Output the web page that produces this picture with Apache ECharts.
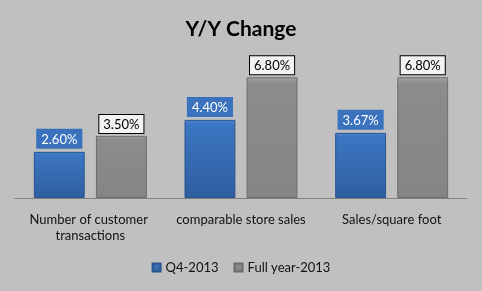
<!DOCTYPE html>
<html><head><meta charset="utf-8">
<script src="https://cdn.jsdelivr.net/npm/echarts@6/dist/echarts.min.js"></script>
<style>html,body{margin:0;padding:0;background:#fff}#c{width:482px;height:291px}</style>
</head><body><div id="c"></div>
<script>
const categories = ['Number of customer transactions', 'comparable store sales', 'Sales/square foot'];
const q4_2013 = [2.60, 4.40, 3.67];
const fullYear2013 = [3.50, 6.80, 6.80];
const seriesNames = ['Q4-2013', 'Full year-2013'];

const chart = echarts.init(document.getElementById('c'));
const font = 'Lato, "Open Sans", sans-serif';
chart.setOption({
  backgroundColor: '#c0c0c0',
  animation: false,
  title: {
    text: 'Y/Y Change', left: 'center', top: 14,
    textStyle: {fontFamily: font, fontSize: 21, fontWeight: 'bold', color: '#000'}
  },
  legend: {
    bottom: 12, left: 'center', itemWidth: 8, itemHeight: 8, itemGap: 15,
    icon: 'rect',
    textStyle: {fontFamily: font, fontSize: 13, color: '#111'},
    data: seriesNames
  },
  grid: {left: 15, right: 15, top: 56, bottom: 93},
  xAxis: {
    type: 'category', data: categories,
    axisLine: {lineStyle: {color: '#808080', width: 1}},
    axisTick: {show: false},
    axisLabel: {fontFamily: font, fontSize: 13, color: '#111', margin: 14, lineHeight: 16,
      width: 145, overflow: 'break', interval: 0}
  },
  yAxis: {type: 'value', min: 0, max: 8, show: false, splitLine: {show: false}},
  series: [
    {
      name: seriesNames[0], type: 'bar', data: q4_2013,
      barGap: '22%', barCategoryGap: '25%',
      itemStyle: {
        color: new echarts.graphic.LinearGradient(0, 0, 0, 1, [
          {offset: 0, color: '#4a84d0'}, {offset: 0.06, color: '#3c76c2'}, {offset: 1, color: '#2f5e9f'}
        ]),
        borderColor: '#2a558f', borderWidth: 1
      },
      label: {
        show: true, position: 'top', distance: 3,
        formatter: p => p.value.toFixed(2) + '%',
        fontFamily: font, fontSize: 13, color: '#fff',
        backgroundColor: '#3a72bd', padding: [4, 5, 3, 5]
      }
    },
    {
      name: seriesNames[1], type: 'bar', data: fullYear2013,
      itemStyle: {
        color: new echarts.graphic.LinearGradient(0, 0, 0, 1, [
          {offset: 0, color: '#a8a8a8'}, {offset: 0.05, color: '#8c8c8c'}, {offset: 1, color: '#858585'}
        ]),
        borderColor: '#6c6c6c', borderWidth: 1
      },
      label: {
        show: true, position: 'top', distance: 3,
        formatter: p => p.value.toFixed(2) + '%',
        fontFamily: font, fontSize: 13, color: '#000',
        backgroundColor: '#f2f2f2', borderColor: '#000', borderWidth: 1, padding: [3, 4, 2, 4]
      }
    }
  ]
});
</script></body></html>
